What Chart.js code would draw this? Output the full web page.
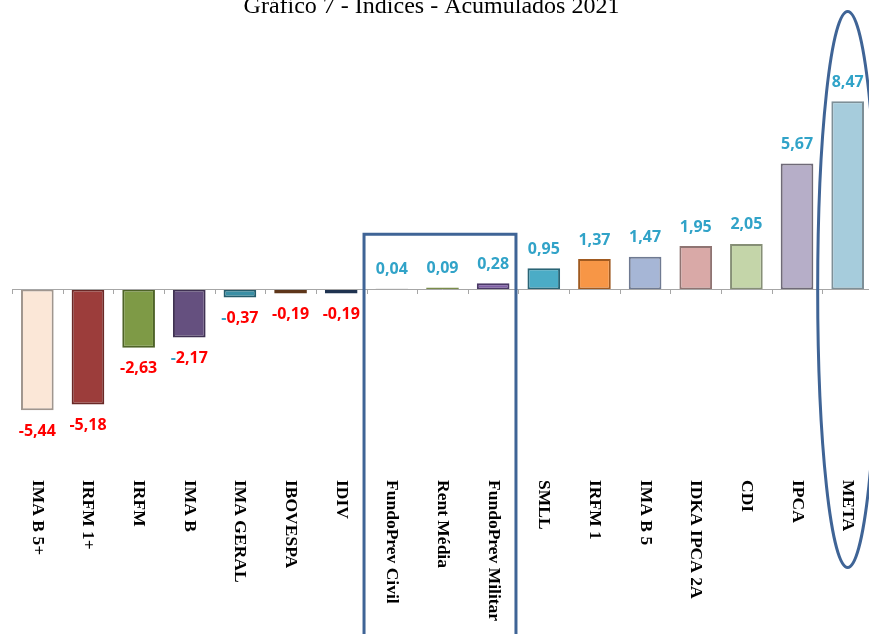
<!DOCTYPE html>
<html>
<head>
<meta charset="utf-8">
<script src="https://cdn.jsdelivr.net/npm/chart.js@4/dist/chart.umd.min.js"></script>
<style>
  html, body { margin: 0; padding: 0; background: #ffffff; overflow: hidden; }
  #wrap { width: 874px; height: 634px; }
</style>
</head>
<body>
<div id="wrap"><canvas id="c" width="874" height="634"></canvas></div>
<script>
// ---- data ----
const chartTitle = 'Gráfico 7 - Índices - Acumulados 2021';
const categories = ['IMA B 5+', 'IRFM 1+', 'IRFM', 'IMA B', 'IMA GERAL', 'IBOVESPA', 'IDIV',
  'FundoPrev Civil', 'Rent Média', 'FundoPrev Militar', 'SMLL', 'IRFM 1', 'IMA B 5',
  'IDKA IPCA 2A', 'CDI', 'IPCA', 'META'];
const values = [-5.44, -5.18, -2.63, -2.17, -0.37, -0.19, -0.19,
  0.04, 0.09, 0.28, 0.95, 1.37, 1.47, 1.95, 2.05, 5.67, 8.47];
const boxedCategories = ['FundoPrev Civil', 'Rent Média', 'FundoPrev Militar'];
const circledCategory = 'META';

// ---- styles ----
const fillColors = ['#FBE7D7', '#9C3D3B', '#7E9A46', '#65507F', '#3A8FA5', '#8E5428', '#2F4B78',
  '#D0D0D0', '#9BB161', '#7F5FA6', '#4BACC6', '#F79646', '#A6B6D6',
  '#D9A9A7', '#C4D5A9', '#B6AEC8', '#A6CCDC'];
const borderColors = ['#A0968E', '#6A2826', '#4E6328', '#3F3152', '#245C6B', '#5E361A', '#1F3350',
  '#BFBFBF', '#7A8C4A', '#4A3866', '#2A6475', '#A05A20', '#6F7A92',
  '#8F7472', '#868F76', '#6F6A77', '#7D8F97'];
const posColor = '#31A3C8';
const negColor = '#FF0000';
const cyanMinusIdx = [3, 4];
const shapeColor = '#3F6496';

const fmt = v => v.toFixed(2).replace('.', ',');

const overlay = {
  id: 'overlay',
  afterDatasetsDraw(chart) {
    const ctx = chart.ctx;
    const xs = chart.scales.x, ys = chart.scales.y;
    const area = chart.chartArea;
    const y0 = ys.getPixelForValue(0);
    ctx.save();
    // title
    ctx.fillStyle = '#000';
    ctx.font = '24px "Liberation Serif", serif';
    ctx.textAlign = 'center';
    ctx.textBaseline = 'alphabetic';
    ctx.fillText(chartTitle, 431.5, 12.5);

    // zero axis line & ticks
    ctx.strokeStyle = '#A6A6A6';
    ctx.lineWidth = 1;
    ctx.beginPath();
    ctx.moveTo(area.left, Math.round(y0) + 0.5);
    ctx.lineTo(area.right, Math.round(y0) + 0.5);
    const step = xs.getPixelForValue(1) - xs.getPixelForValue(0);
    for (let i = 0; i <= categories.length; i++) {
      const bx = Math.round(xs.getPixelForValue(i) - step / 2) + 0.5;
      ctx.moveTo(bx, Math.round(y0));
      ctx.lineTo(bx, Math.round(y0) + 5);
    }
    ctx.stroke();

    // value labels
    const meta = chart.getDatasetMeta(0);
    ctx.font = 'bold 16px "Open Sans", sans-serif';
    ctx.textBaseline = 'middle';
    meta.data.forEach((el, i) => {
      const v = values[i];
      const txt = fmt(v);
      const x = el.x;
      if (v >= 0) {
        ctx.fillStyle = posColor;
        ctx.textAlign = 'center';
        ctx.fillText(txt, x, el.y - 19);
      } else {
        const y = el.y + 21;
        if (cyanMinusIdx.includes(i)) {
          const w = ctx.measureText(txt).width;
          const wm = ctx.measureText('-').width;
          const left = x - w / 2;
          ctx.textAlign = 'left';
          ctx.fillStyle = posColor;
          ctx.fillText('-', left, y);
          ctx.fillStyle = negColor;
          ctx.fillText(txt.slice(1), left + wm, y);
        } else {
          ctx.fillStyle = negColor;
          ctx.textAlign = 'center';
          ctx.fillText(txt, x, y);
        }
      }
    });

    // category labels, rotated (top to bottom)
    ctx.fillStyle = '#000';
    ctx.font = 'bold 17.5px "Liberation Serif", serif';
    ctx.textAlign = 'left';
    ctx.textBaseline = 'middle';
    categories.forEach((c, i) => {
      const x = xs.getPixelForValue(i);
      ctx.save();
      ctx.translate(x, 480);
      ctx.rotate(Math.PI / 2);
      ctx.fillText(c, 0, 0);
      ctx.restore();
    });

    // box around FundoPrev group
    const i0 = categories.indexOf(boxedCategories[0]);
    const i1 = categories.indexOf(boxedCategories[boxedCategories.length - 1]);
    const bl = xs.getPixelForValue(i0) - step / 2 - 2.5;
    const br = xs.getPixelForValue(i1) + step / 2 - 2.5;
    const bt = ys.getPixelForValue(2.48);
    ctx.strokeStyle = shapeColor;
    ctx.lineWidth = 3;
    ctx.beginPath();
    ctx.moveTo(bl, 640);
    ctx.lineTo(bl, bt);
    ctx.lineTo(br, bt);
    ctx.lineTo(br, 640);
    ctx.stroke();

    // ellipse around META
    const im = categories.indexOf(circledCategory);
    const ex = xs.getPixelForValue(im);
    ctx.beginPath();
    ctx.ellipse(ex, y0, 30, 278, 0, 0, Math.PI * 2);
    ctx.stroke();
    ctx.restore();
  }
};

new Chart(document.getElementById('c'), {
  type: 'bar',
  data: {
    labels: categories,
    datasets: [{
      data: values,
      backgroundColor: fillColors,
      borderColor: borderColors,
      borderWidth: 2,
      borderSkipped: false,
      categoryPercentage: 1,
      barPercentage: 0.645
    }]
  },
  options: {
    responsive: false,
    devicePixelRatio: 1,
    animation: false,
    layout: { padding: { left: 12, right: 1, top: 23, bottom: 167 } },
    plugins: { legend: { display: false }, title: { display: false }, tooltip: { enabled: false } },
    scales: {
      x: { display: false, offset: true },
      y: { display: false, min: -8, max: 12 }
    }
  },
  plugins: [overlay]
});
</script>
</body>
</html>
